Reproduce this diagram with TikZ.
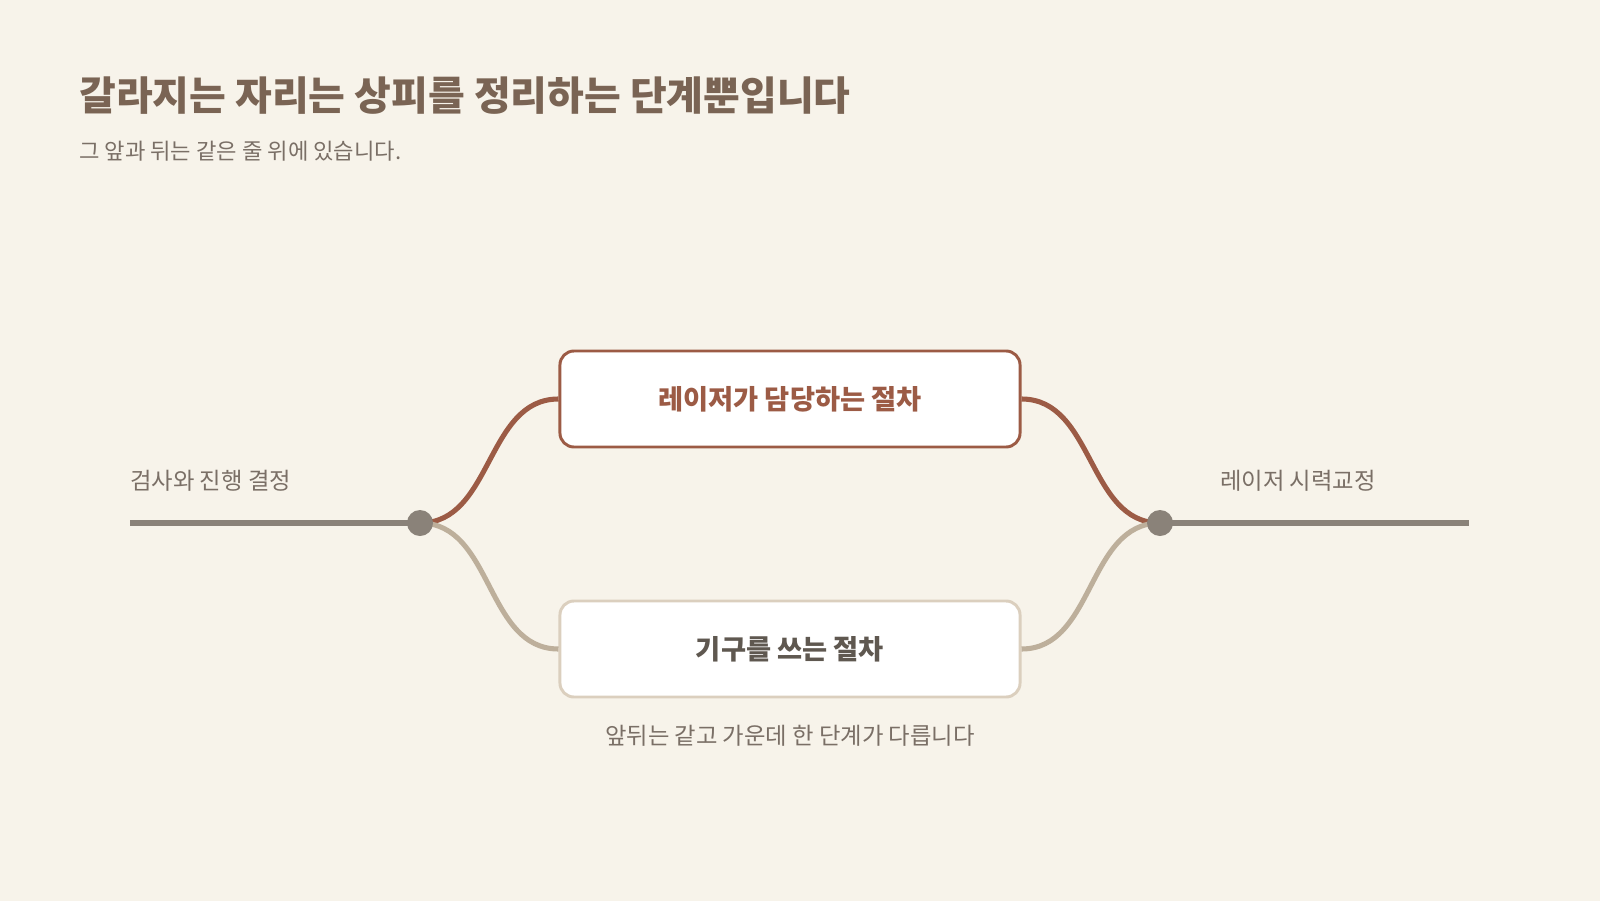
\documentclass[tikz,border=0pt]{standalone}
\usepackage{fontspec}
\setmainfont{Noto Sans CJK KR}
\definecolor{bg}{HTML}{F7F3EA}
\definecolor{ink}{HTML}{7A6454}
\definecolor{soft}{HTML}{7A6F66}
\definecolor{rust}{HTML}{9C5B45}
\definecolor{tan}{HTML}{BDAF9B}
\definecolor{pale}{HTML}{DBCFBE}
\definecolor{stone}{HTML}{8A8279}
\definecolor{dark}{HTML}{5F5850}
\begin{document}
\begin{tikzpicture}[x=0.025cm, y=-0.025cm,
		box/.style={draw, line width=2.1pt, fill=white, rounded corners=10pt, minimum width=11.5cm, minimum height=2.4cm, font=\fontsize{19.4}{22}\selectfont\bfseries},
		dot/.style={circle, fill=stone, inner sep=0pt, minimum size=0.65cm},
		label/.style={anchor=west, inner sep=0pt, text=soft, font=\fontsize{16.6}{19}\selectfont}]
			\fill[bg] (0,0) rectangle (1600,901);
			\useasboundingbox (0,0) rectangle (1600,901);

			\draw node[anchor=west, inner sep=0pt, text=ink, font=\fontsize{28.4}{32}\selectfont\bfseries] (title) at (79,96) {갈라지는 자리는 상피를 정리하는 단계뿐입니다};
			\draw node[anchor=west, inner sep=0pt, text=soft, font=\fontsize{15.8}{18}\selectfont] (sub) at (79,151) {그 앞과 뒤는 같은 줄 위에 있습니다.};

			\draw node[label] (before) at (130,481) {검사와 진행 결정};
			\draw node[label] (after) at (1220,481) {레이저 시력교정};

			\coordinate (start) at (130,523);
			\coordinate (end) at (1469,523);

			\draw node[box, draw=rust, text=rust] (laser) at (790,399) {레이저가 담당하는 절차};
			\draw node[box, draw=pale, text=dark] (tool) at (790,649) {기구를 쓰는 절차};
			\draw node[text=soft, font=\fontsize{16.6}{19}\selectfont] (note) at (790,736) {앞뒤는 같고 가운데 한 단계가 다릅니다};

			\draw[line width=4.3pt, stone] (start) -- (420,523);
			\draw[line width=4.3pt, stone] (1160,523) -- (end);
			\draw[line width=3.6pt, rust] (420,523) to[out=0, in=180] (laser.west);
			\draw[line width=3.6pt, tan] (420,523) to[out=0, in=180] (tool.west);
			\draw[line width=3.6pt, rust] (laser.east) to[out=0, in=180] (1160,523);
			\draw[line width=3.6pt, tan] (tool.east) to[out=0, in=180] (1160,523);

			\draw node[dot] (split) at (420,523) {};
			\draw node[dot] (join) at (1160,523) {};
		\end{tikzpicture}
\end{document}
